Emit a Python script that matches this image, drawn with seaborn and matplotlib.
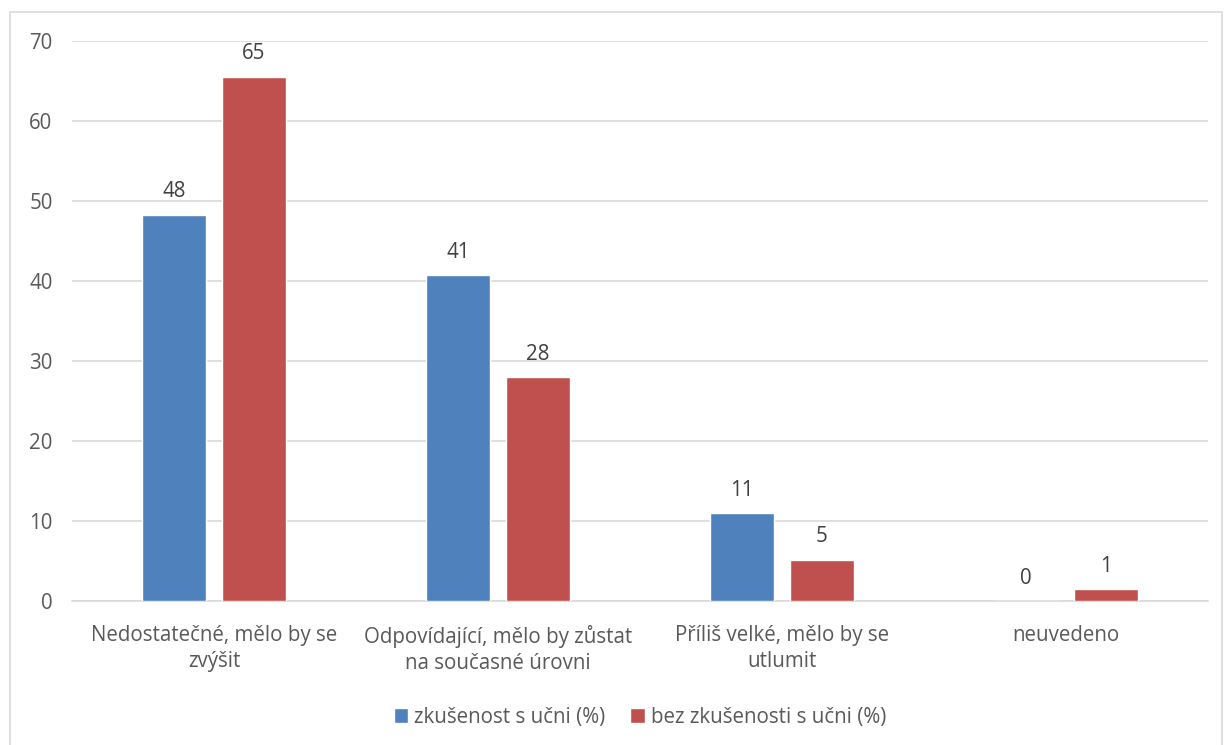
import pandas as pd
import numpy as np
import matplotlib.pyplot as plt
import seaborn as sns
from matplotlib.patches import Rectangle

# data
categories = ["Nedostatečné, mělo by se\nzvýšit",
              "Odpovídající, mělo by zůstat\nna současné úrovni",
              "Příliš velké, mělo by se\nutlumit",
              "neuvedeno"]
series_names = ["zkušenost s učni (%)", "bez zkušenosti s učni (%)"]
with_exp = [48.3, 40.7, 11.0, 0.0]
without_exp = [65.5, 28.0, 5.2, 1.5]
bar_labels_with = ["48", "41", "11", "0"]
bar_labels_without = ["65", "28", "5", "1"]
y_ticks = [0, 10, 20, 30, 40, 50, 60, 70]

df = pd.DataFrame({
    "category": categories * 2,
    "series": [series_names[0]] * 4 + [series_names[1]] * 4,
    "value": with_exp + without_exp,
})

sns.set_theme(style="white")
plt.rcParams['font.family'] = ['Open Sans', 'DejaVu Sans']
TEXT = "#595959"
FS = 14.8

fig = plt.figure(figsize=(12.24, 7.45), dpi=100)
ax = fig.add_axes([0.0588, 0.193, 0.928, 0.752])

sns.barplot(data=df, x="category", y="value", hue="series", order=categories,
            hue_order=series_names, palette=["#4f81bd", "#c0504d"], saturation=1,
            width=0.563, gap=0.2, ax=ax, legend=True, zorder=3)

for container, labels in zip(ax.containers, [bar_labels_with, bar_labels_without]):
    ax.bar_label(container, labels=labels, padding=9, fontsize=FS, color="#404040")

ax.set_ylim(0, 70)
ax.set_yticks(y_ticks)
ax.set_xlim(-0.5, 3.5)
ax.yaxis.grid(True, color="#d9d9d9", linewidth=1.2, zorder=0)
ax.set_axisbelow(True)
for s in ["top", "right", "left"]:
    ax.spines[s].set_visible(False)
ax.spines["bottom"].set_color("#d9d9d9")
ax.spines["bottom"].set_linewidth(1.2)
ax.set_xlabel("")
ax.set_ylabel("")
ax.tick_params(axis="y", labelsize=FS, labelcolor=TEXT, length=0, pad=14)
ax.tick_params(axis="x", labelsize=FS, labelcolor=TEXT, length=0, pad=17)
for lbl in ax.get_xticklabels():
    lbl.set_linespacing(1.35)

leg = ax.legend(loc="upper center", bbox_to_anchor=(0.5, -0.155), ncol=2, frameon=False,
                fontsize=FS, handlelength=0.7, handleheight=0.7, handletextpad=0.3,
                columnspacing=1.2)
for t in leg.get_texts():
    t.set_color(TEXT)

# outer chart border
fig.patches.append(Rectangle((0.008, -0.01), 0.99, 0.994, transform=fig.transFigure,
                             fill=False, edgecolor="#d9d9d9", linewidth=1.2))

fig.savefig("out.png", dpi=100)
